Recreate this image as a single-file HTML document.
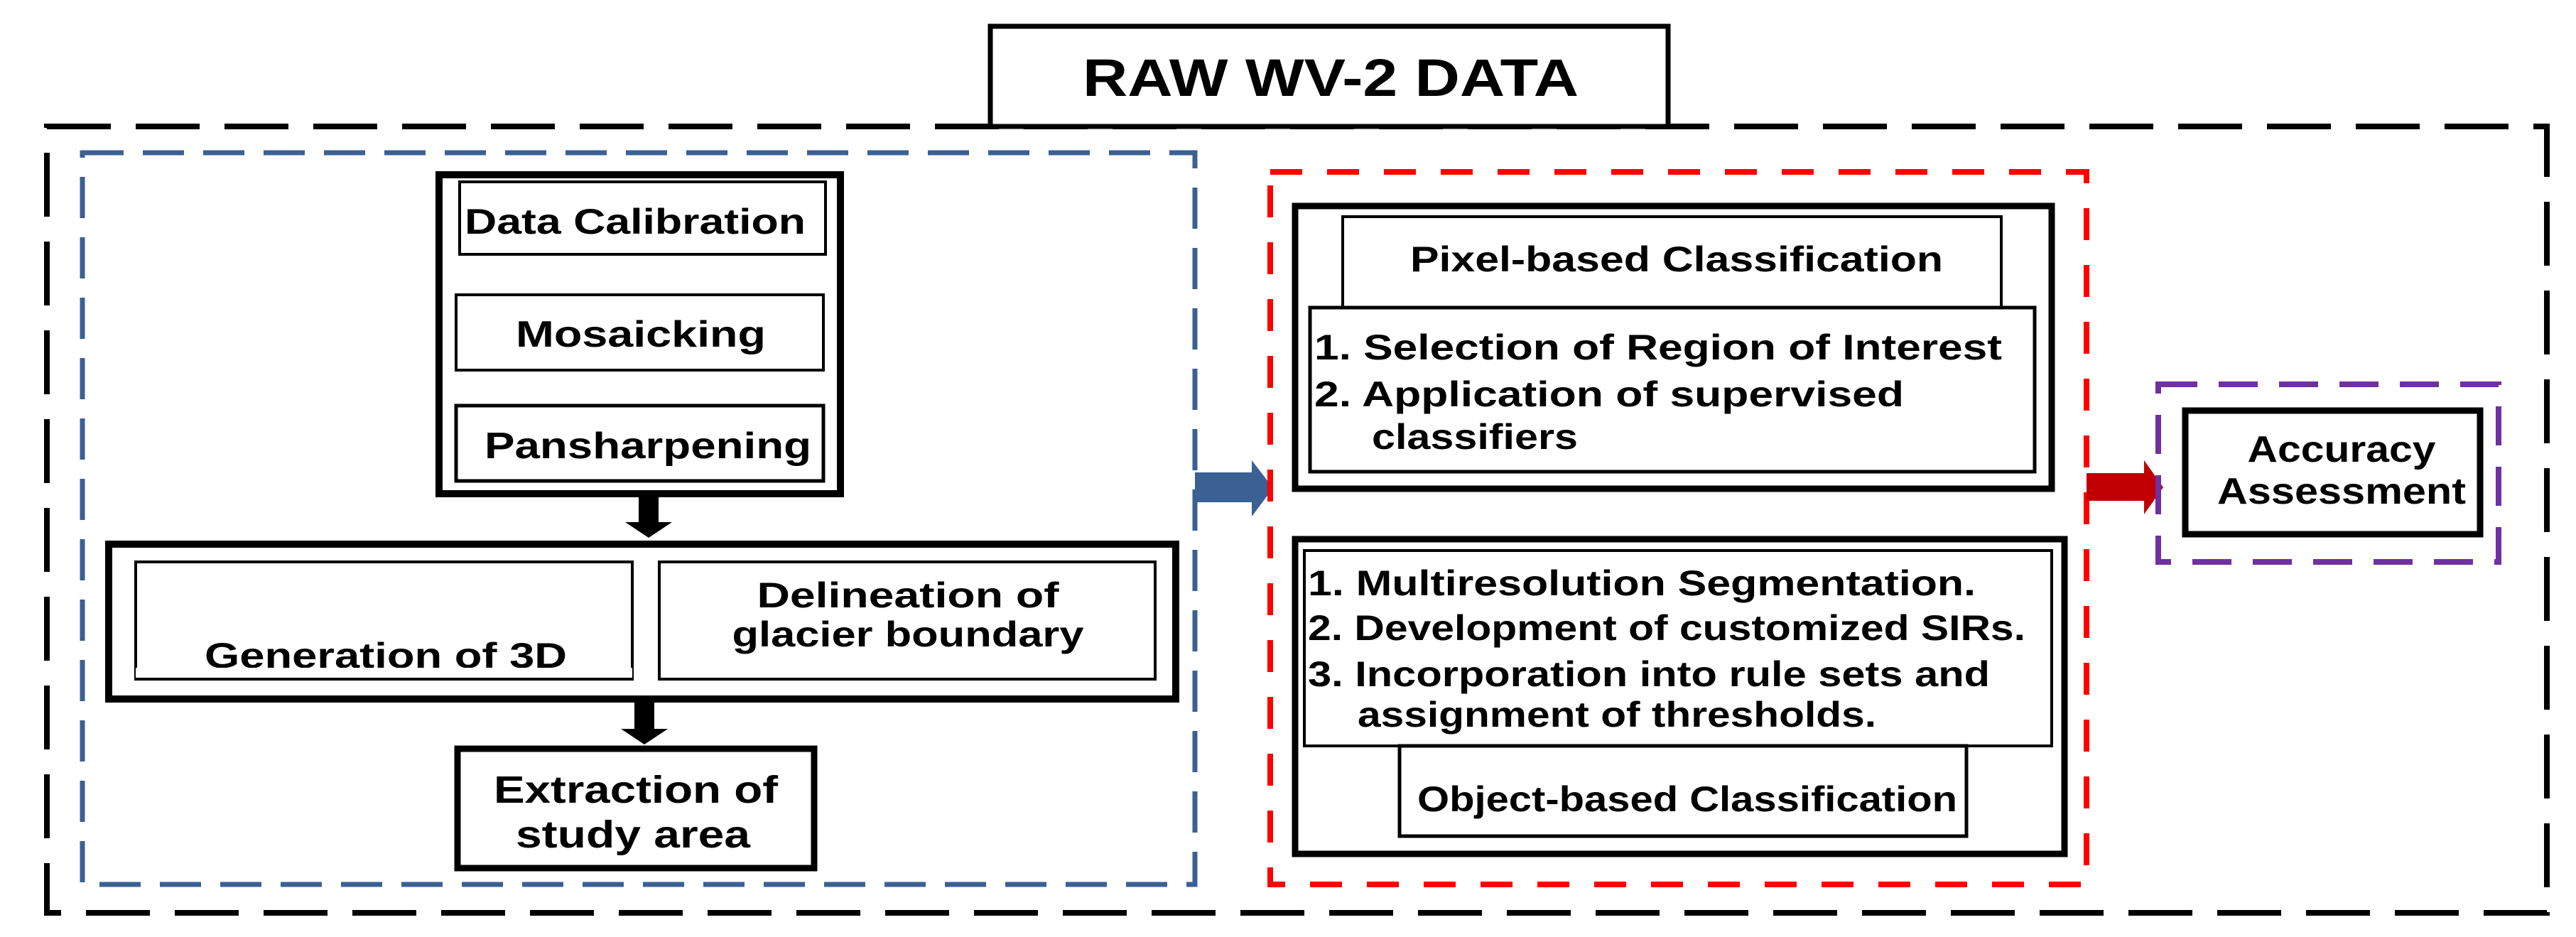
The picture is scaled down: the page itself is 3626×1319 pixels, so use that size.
<!DOCTYPE html>
<html><head><meta charset="utf-8"><style>
html,body{margin:0;padding:0;background:#fff;}
svg{display:block;}
text{font-family:"Liberation Sans",sans-serif;font-weight:bold;fill:#000;}
</style></head><body>
<svg width="3626" height="1319" viewBox="0 0 3626 1319" xmlns="http://www.w3.org/2000/svg">
<rect width="3626" height="1319" fill="#fff"/>
<!-- outer black dashed -->
<rect x="66" y="178" width="3519" height="1107" fill="none" stroke="#000" stroke-width="8" stroke-dasharray="90 35"/>
<!-- title -->
<rect x="1394" y="37" width="954" height="141" fill="#fff" stroke="#000" stroke-width="7"/>
<text x="1873" y="135" font-size="74" text-anchor="middle" textLength="698" lengthAdjust="spacingAndGlyphs">RAW WV-2 DATA</text>
<!-- blue dashed -->
<rect x="116" y="215" width="1566" height="1030" fill="none" stroke="#3a6094" stroke-width="7" stroke-dasharray="58 27"/>
<!-- top stack -->
<rect x="618" y="246" width="565" height="449" fill="none" stroke="#000" stroke-width="10"/>
<rect x="647" y="256" width="515" height="102" fill="none" stroke="#000" stroke-width="4"/>
<text x="654" y="329" font-size="50" textLength="480" lengthAdjust="spacingAndGlyphs">Data Calibration</text>
<rect x="642" y="415" width="517" height="106" fill="none" stroke="#000" stroke-width="4"/>
<text x="902" y="488" font-size="52" text-anchor="middle" textLength="352" lengthAdjust="spacingAndGlyphs">Mosaicking</text>
<rect x="642" y="571" width="517" height="106" fill="none" stroke="#000" stroke-width="5"/>
<text x="682" y="645" font-size="52" textLength="460" lengthAdjust="spacingAndGlyphs">Pansharpening</text>
<!-- arrow 1 -->
<rect x="899" y="695" width="28" height="42" fill="#000"/>
<polygon points="880,735 946,735 913,757" fill="#000"/>
<!-- middle box -->
<rect x="153" y="766" width="1502" height="218" fill="none" stroke="#000" stroke-width="10"/>
<rect x="191" y="791" width="699" height="165" fill="none" stroke="#000" stroke-width="4"/>
<text x="543" y="940" font-size="50" text-anchor="middle" textLength="510" lengthAdjust="spacingAndGlyphs">Generation of 3D</text>
<rect x="191" y="940" width="699" height="14" fill="#fff"/>
<rect x="191" y="954" width="699" height="4" fill="#000"/>
<rect x="928" y="791" width="698" height="165" fill="none" stroke="#000" stroke-width="4"/>
<text x="1278" y="855" font-size="50" text-anchor="middle" textLength="425" lengthAdjust="spacingAndGlyphs">Delineation of</text>
<text x="1278" y="910" font-size="50" text-anchor="middle" textLength="495" lengthAdjust="spacingAndGlyphs">glacier boundary</text>
<!-- arrow 2 -->
<rect x="893" y="986" width="28" height="42" fill="#000"/>
<polygon points="874,1026 940,1026 907,1048" fill="#000"/>
<!-- extraction -->
<rect x="644" y="1054" width="502" height="168" fill="none" stroke="#000" stroke-width="9"/>
<text x="895" y="1130" font-size="54" text-anchor="middle" textLength="400" lengthAdjust="spacingAndGlyphs">Extraction of</text>
<text x="891" y="1193" font-size="54" text-anchor="middle" textLength="330" lengthAdjust="spacingAndGlyphs">study area</text>
<!-- blue arrow -->
<polygon points="1682,665 1762,665 1762,648 1792,687 1762,727 1762,707 1682,707" fill="#3a6094"/>
<!-- red dashed -->
<rect x="1788" y="242" width="1149" height="1003" fill="none" stroke="#ff0000" stroke-width="8" stroke-dasharray="45 35"/>
<!-- pixel-based -->
<rect x="1823" y="290" width="1065" height="398" fill="none" stroke="#000" stroke-width="9"/>
<rect x="1890" y="305" width="927" height="128" fill="none" stroke="#000" stroke-width="4"/>
<text x="2360" y="382" font-size="50" text-anchor="middle" textLength="750" lengthAdjust="spacingAndGlyphs">Pixel-based Classification</text>
<rect x="1844" y="433" width="1020" height="231" fill="#fff" stroke="#000" stroke-width="5"/>
<text x="1850" y="506" font-size="50" textLength="968" lengthAdjust="spacingAndGlyphs">1. Selection of Region of Interest</text>
<text x="1850" y="572" font-size="50" textLength="830" lengthAdjust="spacingAndGlyphs">2. Application of supervised</text>
<text x="1931" y="632" font-size="50" textLength="290" lengthAdjust="spacingAndGlyphs">classifiers</text>
<!-- red arrow -->
<polygon points="2937,666 3018,666 3018,648 3045,686 3018,724 3018,705 2937,705" fill="#c00000"/>
<!-- object-based -->
<rect x="1823" y="759" width="1083" height="443" fill="none" stroke="#000" stroke-width="9"/>
<rect x="1836" y="775" width="1052" height="275" fill="none" stroke="#000" stroke-width="4"/>
<text x="1841" y="838" font-size="50" textLength="940" lengthAdjust="spacingAndGlyphs">1. Multiresolution Segmentation.</text>
<text x="1841" y="901" font-size="50" textLength="1010" lengthAdjust="spacingAndGlyphs">2. Development of customized SIRs.</text>
<text x="1841" y="966" font-size="50" textLength="960" lengthAdjust="spacingAndGlyphs">3. Incorporation into rule sets and</text>
<text x="1911" y="1023" font-size="50" textLength="730" lengthAdjust="spacingAndGlyphs">assignment of thresholds.</text>
<rect x="1970" y="1050" width="798" height="127" fill="none" stroke="#000" stroke-width="5"/>
<text x="1995" y="1142" font-size="50" textLength="760" lengthAdjust="spacingAndGlyphs">Object-based Classification</text>
<!-- purple dashed -->
<rect x="3038" y="541" width="479" height="250" fill="none" stroke="#7030a0" stroke-width="8" stroke-dasharray="55 30"/>
<rect x="3076" y="578" width="415" height="174" fill="none" stroke="#000" stroke-width="9"/>
<text x="3296" y="650" font-size="52" text-anchor="middle" textLength="265" lengthAdjust="spacingAndGlyphs">Accuracy</text>
<text x="3296" y="709" font-size="52" text-anchor="middle" textLength="350" lengthAdjust="spacingAndGlyphs">Assessment</text>
</svg>
</body></html>
